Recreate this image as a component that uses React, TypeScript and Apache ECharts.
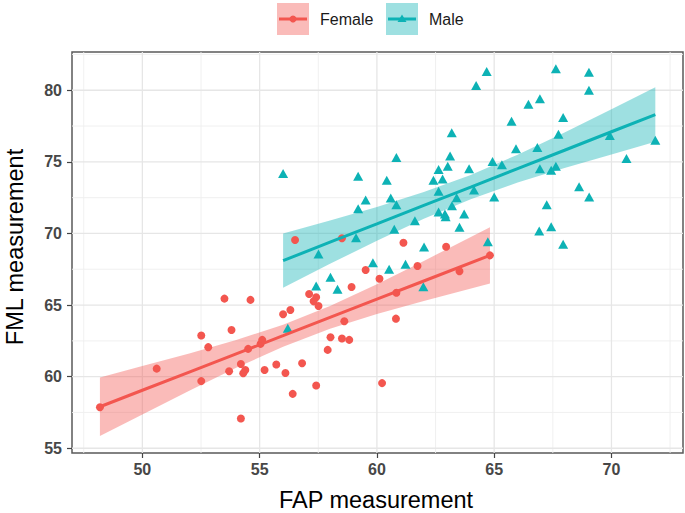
import React, { useEffect, useRef } from "react";
import * as echarts from "echarts";

// ---- data ----
const femaleX = [48.19, 50.61, 52.51, 52.81, 52.51, 53.5, 53.8, 53.7, 54.2, 54.39, 54.3, 54.51, 54.61, 54.2, 55.04, 55.11, 55.21, 55.71, 56.0, 56.31, 56.1, 56.81, 56.41, 57.41, 57.9, 58.02, 58.51, 58.82, 58.61, 57.11, 57.41, 57.3, 57.51, 58.92, 59.52, 60.11, 60.83, 60.81, 61.13, 61.73, 62.95, 63.52, 64.82, 60.22, 56.51, 58.51];
const femaleY = [57.87, 60.56, 62.87, 62.06, 59.69, 65.45, 63.26, 60.38, 60.89, 60.47, 60.24, 61.94, 65.36, 57.08, 62.29, 62.57, 60.47, 60.85, 64.36, 64.66, 60.26, 60.94, 58.8, 59.38, 61.87, 62.75, 62.66, 62.57, 63.87, 65.77, 65.54, 65.26, 64.94, 66.26, 67.45, 66.84, 65.86, 64.05, 69.35, 67.73, 69.07, 67.36, 68.47, 59.55, 69.54, 69.66];

const maleX = [56.0, 56.2, 57.51, 57.41, 58.02, 58.32, 59.11, 59.2, 59.2, 59.52, 59.83, 60.42, 60.83, 60.59, 60.83, 60.74, 60.52, 61.22, 61.62, 62.01, 61.98, 62.41, 62.63, 62.8, 63.02, 63.12, 63.19, 62.63, 63.4, 63.2, 62.63, 62.9, 62.93, 63.72, 63.52, 63.93, 64.14, 64.23, 64.68, 64.73, 64.93, 65.0, 65.33, 65.74, 65.93, 66.46, 66.95, 66.84, 66.95, 66.92, 67.24, 67.43, 67.43, 67.63, 67.63, 67.74, 67.94, 67.94, 68.62, 69.05, 69.04, 69.04, 69.93, 70.64, 71.87];
const maleY = [74.19, 63.38, 68.56, 66.33, 66.94, 66.1, 69.7, 74.0, 71.73, 72.33, 67.96, 73.72, 75.3, 72.47, 72.0, 70.3, 67.5, 67.85, 70.89, 69.05, 66.28, 73.72, 74.47, 73.81, 74.7, 75.4, 77.03, 72.94, 72.49, 71.93, 71.49, 71.35, 71.16, 71.35, 70.43, 74.51, 73.03, 80.33, 81.3, 69.42, 75.03, 72.54, 74.79, 77.84, 75.91, 79.02, 79.4, 76.0, 74.51, 70.17, 72.0, 74.42, 70.47, 74.7, 81.5, 76.93, 78.1, 69.24, 73.26, 72.54, 81.26, 80.0, 76.84, 75.24, 76.51];

// fitted lines and confidence bands
const femaleFitX = [48.19, 50, 52, 54, 56, 58, 60, 62, 64.82];
const femaleFitY = [57.9, 59.05, 60.32, 61.59, 62.86, 64.14, 65.41, 66.68, 68.47];
const femaleLower = [55.85, 57.35, 59.02, 60.62, 62.09, 63.34, 64.37, 65.28, 66.5];
const femaleUpper = [59.95, 60.75, 61.62, 62.56, 63.63, 64.94, 66.45, 68.08, 70.44];

const maleFitX = [56, 58, 60, 62, 64, 66, 68, 70, 71.87];
const maleFitY = [68.1, 69.39, 70.67, 71.96, 73.24, 74.53, 75.81, 77.1, 78.3];
const maleLower = [66.2, 67.88, 69.49, 71.03, 72.39, 73.56, 74.57, 75.52, 76.4];
const maleUpper = [70.0, 70.9, 71.85, 72.89, 74.09, 75.5, 77.05, 78.68, 80.2];

const xTicks = [50, 55, 60, 65, 70];
const xMinor = [47.5, 52.5, 57.5, 62.5, 67.5, 72.5];
const yTicks = [55, 60, 65, 70, 75, 80];
const yMinor = [57.5, 62.5, 67.5, 72.5, 77.5, 82.5];

const RED = "#F3564F";
const TEAL = "#0DB2B5";
const RED_FILL = "rgba(243,86,79,0.4)";
const TEAL_FILL = "rgba(13,178,181,0.4)";
const FONT = '"Liberation Sans", Arial, Helvetica, sans-serif';

const zip = (a: number[], b: number[]) => a.map((v, i) => [v, b[i]]);

function ribbon(xs: number[], lo: number[], hi: number[], fill: string) {
  return {
    type: "custom",
    silent: true,
    clip: true,
    data: [[xs[0], lo[0]]],
    renderItem: (_p: any, api: any) => {
      const pts: number[][] = [];
      for (let i = 0; i < xs.length; i++) pts.push(api.coord([xs[i], hi[i]]));
      for (let i = xs.length - 1; i >= 0; i--) pts.push(api.coord([xs[i], lo[i]]));
      return { type: "polygon", shape: { points: pts }, style: { fill, stroke: null } };
    },
  };
}

export default function App() {
  const ref = useRef<HTMLDivElement>(null);
  useEffect(() => {
    if (!ref.current) return;
    const chart = echarts.init(ref.current, null, { renderer: "svg" });
    const gridSeries = {
      type: "custom",
      silent: true,
      z: 1,
      data: [[60, 70]],
      renderItem: (params: any, api: any) => {
        const cs = params.coordSys;
        const children: any[] = [];
        const addV = (v: number, w: number, c: string) => {
          const x = api.coord([v, 70])[0];
          children.push({ type: "line", shape: { x1: x, y1: cs.y, x2: x, y2: cs.y + cs.height }, style: { stroke: c, lineWidth: w } });
        };
        const addH = (v: number, w: number, c: string) => {
          const y = api.coord([60, v])[1];
          children.push({ type: "line", shape: { x1: cs.x, y1: y, x2: cs.x + cs.width, y2: y }, style: { stroke: c, lineWidth: w } });
        };
        xMinor.forEach((v) => addV(v, 0.9, "#EEEEEE"));
        yMinor.forEach((v) => addH(v, 0.9, "#EEEEEE"));
        xTicks.forEach((v) => addV(v, 1.3, "#E6E6E6"));
        yTicks.forEach((v) => addH(v, 1.3, "#E6E6E6"));
        return { type: "group", children };
      },
    };
    const option: any = {
      animation: false,
      backgroundColor: "#ffffff",
      grid: { left: 72, right: 2, top: 52, bottom: 60, show: true, borderColor: "#5A5A5A", borderWidth: 1.5, backgroundColor: "#ffffff" },
      xAxis: {
        type: "value",
        min: 47.0,
        max: 73.05,
        splitLine: { show: false },
        axisLine: { show: false },
        axisTick: { show: true, length: 5, customValues: xTicks, lineStyle: { color: "#444444", width: 1.2 } },
        axisLabel: { customValues: xTicks, margin: 8, color: "#474747", fontSize: 16, fontWeight: "bold", fontFamily: FONT },
      },
      yAxis: {
        type: "value",
        min: 54.67,
        max: 82.67,
        splitLine: { show: false },
        axisLine: { show: false },
        axisTick: { show: true, length: 5, customValues: yTicks, lineStyle: { color: "#444444", width: 1.2 } },
        axisLabel: { customValues: yTicks, margin: 10, color: "#474747", fontSize: 16, fontWeight: "bold", fontFamily: FONT },
      },
      series: [
        gridSeries,
        { type: "scatter", name: "Female", data: zip(femaleX, femaleY), symbol: "circle", symbolSize: 8, itemStyle: { color: RED, opacity: 1 }, silent: true },
        { type: "scatter", name: "Male", data: zip(maleX, maleY), symbol: "triangle", symbolSize: [10, 9], itemStyle: { color: TEAL, opacity: 1 }, silent: true },
        ribbon(femaleFitX, femaleLower, femaleUpper, RED_FILL),
        { type: "line", data: zip(femaleFitX, femaleFitY), showSymbol: false, lineStyle: { color: RED, width: 3 }, silent: true },
        ribbon(maleFitX, maleLower, maleUpper, TEAL_FILL),
        { type: "line", data: zip(maleFitX, maleFitY), showSymbol: false, lineStyle: { color: TEAL, width: 3 }, silent: true },
      ],
      graphic: [
        { type: "rect", shape: { x: 277, y: 3, width: 32, height: 32 }, style: { fill: RED_FILL } },
        { type: "line", shape: { x1: 279, y1: 19, x2: 307, y2: 19 }, style: { stroke: RED, lineWidth: 3 } },
        { type: "circle", shape: { cx: 293, cy: 19, r: 3.5 }, style: { fill: RED } },
        { type: "text", x: 320, y: 19, style: { text: "Female", fontSize: 16, fontFamily: FONT, fill: "#1A1A1A", align: "left", verticalAlign: "middle", textAlign: "left", textVerticalAlign: "middle" } },
        { type: "rect", shape: { x: 386, y: 3, width: 32, height: 32 }, style: { fill: TEAL_FILL } },
        { type: "line", shape: { x1: 388, y1: 19, x2: 416, y2: 19 }, style: { stroke: TEAL, lineWidth: 3 } },
        { type: "polygon", shape: { points: [[402, 14.5], [397.5, 22], [406.5, 22]] }, style: { fill: TEAL } },
        { type: "text", x: 429, y: 19, style: { text: "Male", fontSize: 16, fontFamily: FONT, fill: "#1A1A1A", align: "left", verticalAlign: "middle", textAlign: "left", textVerticalAlign: "middle" } },
        { type: "text", x: 376, y: 500, style: { text: "FAP measurement", fontSize: 23.5, fontFamily: FONT, fill: "#000000", align: "center", verticalAlign: "middle", textAlign: "center", textVerticalAlign: "middle" } },
        { type: "text", x: 14.5, y: 247, rotation: Math.PI / 2, style: { text: "FML measurement", fontSize: 23.5, fontFamily: FONT, fill: "#000000", align: "center", verticalAlign: "middle", textAlign: "center", textVerticalAlign: "middle" } },
      ],
    };
    chart.setOption(option);
    return () => chart.dispose();
  }, []);
  return <div ref={ref} style={{ position: "fixed", left: 0, top: 0, width: 685, height: 513, background: "#fff" }} />;
}
